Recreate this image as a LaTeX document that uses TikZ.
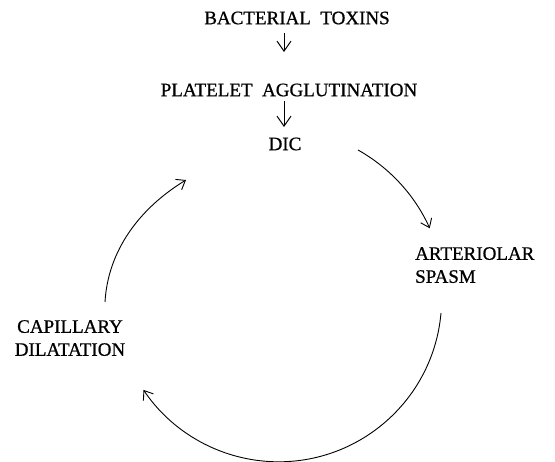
\documentclass[tikz,border=0pt]{standalone}
\usepackage{fontspec}
\setmainfont[FakeBold=0.8]{Liberation Serif}
\usetikzlibrary{arrows.meta}
\begin{document}
\begin{tikzpicture}[x=1pt,y=-1pt,
  lbl/.style={inner sep=0pt,font=\fontsize{19}{23}\selectfont},
  conn/.style={line width=0.9pt,-{Straight Barb[length=8pt,width=12pt,line width=0.9pt]}},
  vconn/.style={line width=1pt,-{Straight Barb[length=10pt,width=14pt,line width=1pt]}}]
\useasboundingbox (0,0) rectangle (555,462);
\node[lbl] (bt) at (297,18) {BACTERIAL\ \ TOXINS};
\node[lbl] (pa) at (289,90) {PLATELET\ \ AGGLUTINATION};
\node[lbl] (dic) at (285,144) {DIC};
\node[lbl,align=left,anchor=north west] (as) at (415,247) {ARTERIOLAR\\SPASM};
\node[lbl,align=center,anchor=north] (cd) at (70,320) {CAPILLARY\\DILATATION};
\coordinate (a1s) at (284,33);
\coordinate (a1e) at (284,52);
\coordinate (a2s) at (284,101);
\coordinate (a2e) at (284,127);
\draw[vconn] (a1s) -- (a1e);
\draw[vconn] (a2s) -- (a2e);
\draw[conn] (358,150) coordinate (s1) arc[start angle=-60.7,end angle=-24.3,radius=170];
\draw[conn] (441,313) coordinate (s2) arc[start angle=5,end angle=146,radius=163];
\draw[conn] (105,302) coordinate (s3) .. controls (108,250) and (140,208) .. (186,180);
\end{tikzpicture}
\end{document}
